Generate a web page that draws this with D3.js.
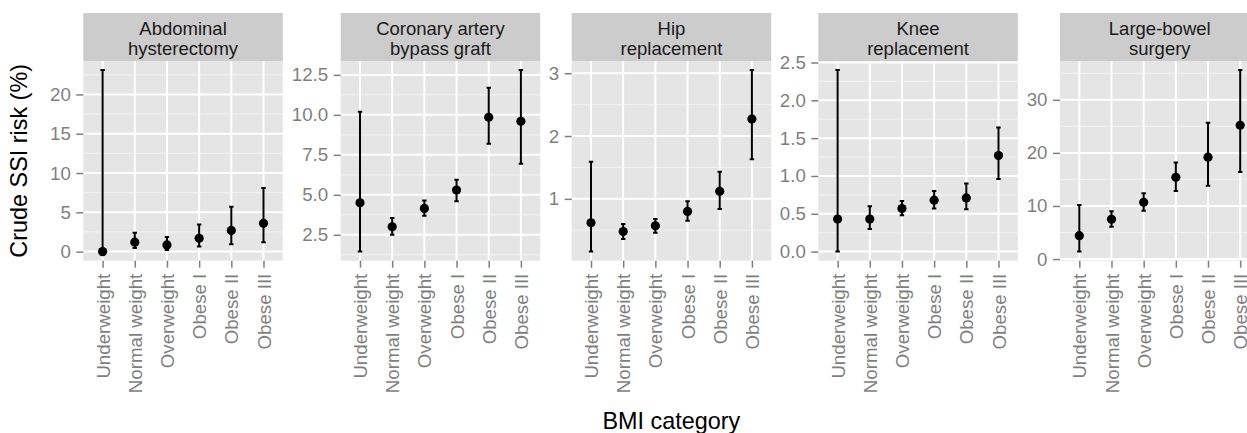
<!DOCTYPE html>
<html>
<head>
<meta charset="utf-8">
<script src="https://cdn.jsdelivr.net/npm/d3@7"></script>
<style>
  body { margin: 0; background: #fff; }
  svg { display: block; font-family: "Liberation Sans", Arial, sans-serif; }
</style>
</head>
<body>
<div id="chart"></div>
<script>
// Categorias de IMC e procedimentos
const categories = ["Underweight", "Normal weight", "Overweight", "Obese I", "Obese II", "Obese III"];
const procedures = ["Abdominal\nhysterectomy", "Coronary artery\nbypass graft", "Hip\nreplacement", "Knee\nreplacement", "Large-bowel\nsurgery"];

// Risco bruto (%) e IC por procedimento
const abdominalRisk  = [0, 1.2, 0.85, 1.7, 2.7, 3.6];
const abdominalLower = [0, 0.45, 0.2, 0.65, 0.95, 1.2];
const abdominalUpper = [23.1, 2.4, 1.85, 3.45, 5.7, 8.1];

const cabgRisk  = [4.5, 3.0, 4.15, 5.3, 9.85, 9.6];
const cabgLower = [1.45, 2.5, 3.7, 4.6, 8.2, 6.95];
const cabgUpper = [10.2, 3.55, 4.65, 5.95, 11.7, 12.8];

const hipRisk  = [0.62, 0.48, 0.57, 0.80, 1.12, 2.27];
const hipLower = [0.16, 0.36, 0.46, 0.65, 0.84, 1.63];
const hipUpper = [1.59, 0.60, 0.68, 0.96, 1.43, 3.05];

const kneeRisk  = [0.43, 0.43, 0.57, 0.68, 0.71, 1.27];
const kneeLower = [0.0, 0.30, 0.48, 0.57, 0.56, 0.96];
const kneeUpper = [2.40, 0.60, 0.67, 0.80, 0.90, 1.64];

const bowelRisk  = [4.4, 7.5, 10.7, 15.4, 19.2, 25.2];
const bowelLower = [1.4, 6.1, 9.1, 12.8, 13.8, 16.4];
const bowelUpper = [10.2, 9.0, 12.4, 18.2, 25.7, 35.6];

// Marcas do eixo y de cada painel
const abdominalTicks = [0, 5, 10, 15, 20];
const cabgTicks = [2.5, 5, 7.5, 10, 12.5];
const hipTicks = [1, 2, 3];
const kneeTicks = [0, 0.5, 1, 1.5, 2, 2.5];
const bowelTicks = [0, 10, 20, 30];
const tickFormats = ["d", ".1f", "d", ".1f", "d"];

const panels = [
    { risk: abdominalRisk, lower: abdominalLower, upper: abdominalUpper, ticks: abdominalTicks },
    { risk: cabgRisk, lower: cabgLower, upper: cabgUpper, ticks: cabgTicks },
    { risk: hipRisk, lower: hipLower, upper: hipUpper, ticks: hipTicks },
    { risk: kneeRisk, lower: kneeLower, upper: kneeUpper, ticks: kneeTicks },
    { risk: bowelRisk, lower: bowelLower, upper: bowelUpper, ticks: bowelTicks }
];

// Layout
const W = 1247, H = 433;
const panelLefts = [83.3, 340.7, 571.7, 818.3, 1060];
const panelW = 199.5;
const stripTop = 13, stripBottom = 61, panelBottom = 260.7;
const grey50 = "#7f7f7f";

const svg = d3.select("#chart").append("svg")
    .attr("width", W)
    .attr("height", H)
    .style("overflow", "hidden");

panels.forEach(function(p, k) {
    const left = panelLefts[k];
    const g = svg.append("g").attr("transform", `translate(${left},0)`);

    const x = d3.scalePoint()
        .domain(categories)
        .range([0, panelW])
        .padding(0.6);

    const lo = d3.min(p.lower), hi = d3.max(p.upper);
    const pad = (hi - lo) * 0.05;
    const y = d3.scaleLinear()
        .domain([lo - pad, hi + pad])
        .range([panelBottom, stripBottom]);

    // fundo do painel
    g.append("rect")
        .attr("x", 0).attr("y", stripBottom)
        .attr("width", panelW).attr("height", panelBottom - stripBottom)
        .attr("fill", "#e5e5e5");

    // grade menor
    const step = p.ticks[1] - p.ticks[0];
    const minor = [p.ticks[0] - step / 2].concat(p.ticks.map(t => t + step / 2))
        .filter(v => v >= y.domain()[0] && v <= y.domain()[1]);
    g.selectAll(".minor")
        .data(minor)
        .enter().append("line")
        .attr("x1", 0).attr("x2", panelW)
        .attr("y1", d => y(d)).attr("y2", d => y(d))
        .attr("stroke", "#f2f2f2").attr("stroke-width", 1);

    // grade maior
    g.selectAll(".hgrid")
        .data(p.ticks)
        .enter().append("line")
        .attr("x1", 0).attr("x2", panelW)
        .attr("y1", d => y(d)).attr("y2", d => y(d))
        .attr("stroke", "#fff").attr("stroke-width", 2);
    g.selectAll(".vgrid")
        .data(categories)
        .enter().append("line")
        .attr("x1", d => x(d)).attr("x2", d => x(d))
        .attr("y1", stripBottom).attr("y2", panelBottom)
        .attr("stroke", "#fff").attr("stroke-width", 2);

    // faixa do título
    g.append("rect")
        .attr("x", 0).attr("y", stripTop)
        .attr("width", panelW).attr("height", stripBottom - stripTop)
        .attr("fill", "#cccccc");
    const title = g.append("text")
        .attr("x", panelW / 2)
        .attr("text-anchor", "middle")
        .style("font-size", "18.5px")
        .attr("fill", "#1a1a1a");
    procedures[k].split("\n").forEach((line, i) => {
        title.append("tspan")
            .attr("x", panelW / 2)
            .attr("y", 35 + i * 19.5)
            .text(line);
    });

    // eixo y
    const yAxis = g.append("g")
        .call(d3.axisLeft(y).tickValues(p.ticks)
            .tickFormat(d3.format(tickFormats[k]))
            .tickSize(7).tickPadding(5.5));
    yAxis.select(".domain").remove();
    yAxis.selectAll("line").attr("stroke", grey50).attr("stroke-width", 1.5);
    yAxis.selectAll("text")
        .attr("fill", grey50)
        .style("font-size", "18.7px")
        .style("font-family", "Liberation Sans, Arial, sans-serif");

    // eixo x
    const xAxis = g.append("g")
        .attr("transform", `translate(0,${panelBottom})`)
        .call(d3.axisBottom(x).tickSize(7).tickPadding(6));
    xAxis.select(".domain").remove();
    xAxis.selectAll("line").attr("stroke", grey50).attr("stroke-width", 1.5);
    xAxis.selectAll("text")
        .attr("fill", grey50)
        .style("font-size", "18.7px")
        .style("font-family", "Liberation Sans, Arial, sans-serif")
        .attr("transform", "rotate(-90)")
        .attr("text-anchor", "end")
        .attr("x", -13)
        .attr("y", 0)
        .attr("dy", "0.35em");

    // barras de erro
    const rows = categories.map((c, i) => ({ cat: c, risk: p.risk[i], lower: p.lower[i], upper: p.upper[i] }));
    const cap = 2.2;
    g.selectAll(".err")
        .data(rows)
        .enter().append("path")
        .attr("d", d => `M${x(d.cat) - cap},${y(d.upper)}H${x(d.cat) + cap}` +
            `M${x(d.cat)},${y(d.upper)}V${y(d.lower)}` +
            `M${x(d.cat) - cap},${y(d.lower)}H${x(d.cat) + cap}`)
        .attr("stroke", "#000").attr("stroke-width", 2).attr("fill", "none");

    g.selectAll(".pt")
        .data(rows)
        .enter().append("circle")
        .attr("cx", d => x(d.cat))
        .attr("cy", d => y(d.risk))
        .attr("r", 4.6)
        .attr("fill", "#000");
});

// títulos dos eixos
svg.append("text")
    .attr("transform", `translate(26.5,${(stripBottom + panelBottom) / 2}) rotate(-90)`)
    .attr("text-anchor", "middle")
    .style("font-size", "23.4px")
    .text("Crude SSI risk (%)");

svg.append("text")
    .attr("x", (panelLefts[0] + panelLefts[4] + panelW) / 2)
    .attr("y", 429)
    .attr("text-anchor", "middle")
    .style("font-size", "23.4px")
    .text("BMI category");
</script>
</body>
</html>
